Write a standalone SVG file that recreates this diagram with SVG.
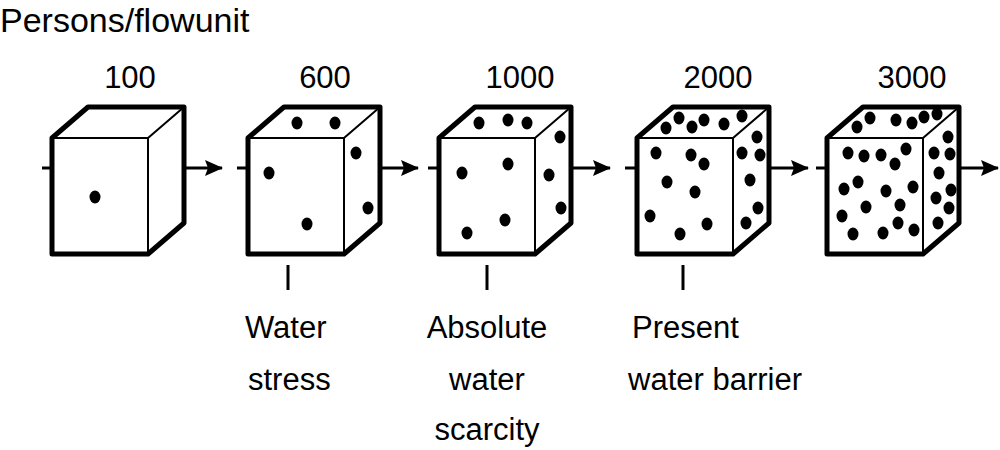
<svg xmlns="http://www.w3.org/2000/svg" xmlns:xlink="http://www.w3.org/1999/xlink" width="1000" height="450" viewBox="0 0 1000 450">
<style>
text{font-family:"Liberation Sans",Arial,sans-serif;fill:#000}
.n{font-size:31px;text-anchor:middle}
.l{font-size:31px}
.c{fill:#fff;stroke:#000;stroke-linejoin:round}
.thin{fill:none;stroke:#000;stroke-width:2}
.ln{stroke:#000;stroke-width:3;fill:none}
.d{fill:#000}
</style>
<defs>
<marker id="ah" markerWidth="18" markerHeight="16" refX="17" refY="8" orient="auto" markerUnits="userSpaceOnUse" viewBox="0 0 18 16"><path d="M0,0 L18,8 L0,16 L3,8 Z"/></marker>
<g id="cube">
<path class="c" stroke-width="5" d="M0,0 L36,-31 L132,-31 L132,85 L96,116 L0,116 Z"/>
<path class="thin" d="M0,0 L96,0 L132,-31 M96,0 L96,116"/>
</g>
</defs>
<text x="0" y="32" font-size="34">Persons/flowunit</text>
<text class="n" x="130" y="88">100</text>
<text class="n" x="325" y="88">600</text>
<text class="n" x="520" y="88">1000</text>
<text class="n" x="718" y="88">2000</text>
<text class="n" x="912" y="88">3000</text>
<g id="connectors">
<path class="ln" d="M42,168H52 M170,168H222" marker-end="url(#ah)"/>
<path class="ln" d="M237,168H248 M365,168H418" marker-end="url(#ah)"/>
<path class="ln" d="M428,168H439 M555,168H610" marker-end="url(#ah)"/>
<path class="ln" d="M625,168H637 M752,168H808" marker-end="url(#ah)"/>
<path class="ln" d="M816,168H827 M944,168H998" marker-end="url(#ah)"/>
<path class="ln" d="M288,265V290 M487,265V290 M683,265V290"/>
</g>
<g id="c1"><use xlink:href="#cube" x="52" y="138"/><ellipse class="d" cx="95" cy="197" rx="5.5" ry="6.5"/></g>
<g id="c2"><use xlink:href="#cube" x="248" y="138"/>
<g class="d"><ellipse cx="297" cy="123" rx="5.5" ry="6.5"/><ellipse cx="335" cy="123" rx="5.5" ry="6.5"/><ellipse cx="356" cy="153" rx="5.5" ry="6.5"/><ellipse cx="269" cy="173" rx="5.5" ry="6.5"/><ellipse cx="307" cy="224" rx="5.5" ry="6.5"/><ellipse cx="368" cy="208" rx="5.5" ry="6.5"/></g></g>
<g id="c3"><use xlink:href="#cube" x="439" y="138"/>
<g class="d"><ellipse cx="479" cy="123" rx="5.5" ry="6.5"/><ellipse cx="508" cy="120" rx="5.5" ry="6.5"/><ellipse cx="527" cy="123" rx="5.5" ry="6.5"/><ellipse cx="560" cy="137" rx="5.5" ry="6.5"/><ellipse cx="462" cy="173" rx="5.5" ry="6.5"/><ellipse cx="508" cy="164" rx="5.5" ry="6.5"/><ellipse cx="549" cy="175" rx="5.5" ry="6.5"/><ellipse cx="561" cy="208" rx="5.5" ry="6.5"/><ellipse cx="505" cy="220" rx="5.5" ry="6.5"/><ellipse cx="467" cy="233" rx="5.5" ry="6.5"/></g></g>
<g id="c4"><use xlink:href="#cube" x="637" y="138"/>
<g class="d"><ellipse cx="666" cy="128" rx="5.5" ry="6.5"/><ellipse cx="679" cy="118" rx="5.5" ry="6.5"/><ellipse cx="692" cy="127" rx="5.5" ry="6.5"/><ellipse cx="704" cy="120" rx="5.5" ry="6.5"/><ellipse cx="724" cy="124" rx="5.5" ry="6.5"/><ellipse cx="742" cy="116" rx="5.5" ry="6.5"/><ellipse cx="757" cy="137" rx="5.5" ry="6.5"/><ellipse cx="742" cy="153" rx="5.5" ry="6.5"/><ellipse cx="760" cy="155" rx="5.5" ry="6.5"/><ellipse cx="750" cy="180" rx="5.5" ry="6.5"/><ellipse cx="758" cy="208" rx="5.5" ry="6.5"/><ellipse cx="746" cy="223" rx="5.5" ry="6.5"/><ellipse cx="656" cy="153" rx="5.5" ry="6.5"/><ellipse cx="691" cy="155" rx="5.5" ry="6.5"/><ellipse cx="704" cy="164" rx="5.5" ry="6.5"/><ellipse cx="667" cy="182" rx="5.5" ry="6.5"/><ellipse cx="695" cy="192" rx="5.5" ry="6.5"/><ellipse cx="650" cy="216" rx="5.5" ry="6.5"/><ellipse cx="707" cy="224" rx="5.5" ry="6.5"/><ellipse cx="680" cy="234" rx="5.5" ry="6.5"/></g></g>
<g id="c5"><use xlink:href="#cube" x="827" y="138"/>
<g class="d"><ellipse cx="857" cy="127" rx="5.5" ry="6.5"/><ellipse cx="870" cy="118" rx="5.5" ry="6.5"/><ellipse cx="896" cy="120" rx="5.5" ry="6.5"/><ellipse cx="912" cy="123" rx="5.5" ry="6.5"/><ellipse cx="924" cy="117" rx="5.5" ry="6.5"/><ellipse cx="937" cy="114" rx="5.5" ry="6.5"/><ellipse cx="948" cy="137" rx="5.5" ry="6.5"/><ellipse cx="934" cy="153" rx="5.5" ry="6.5"/><ellipse cx="950" cy="154" rx="5.5" ry="6.5"/><ellipse cx="939" cy="173" rx="5.5" ry="6.5"/><ellipse cx="951" cy="190" rx="5.5" ry="6.5"/><ellipse cx="936" cy="198" rx="5.5" ry="6.5"/><ellipse cx="949" cy="208" rx="5.5" ry="6.5"/><ellipse cx="938" cy="223" rx="5.5" ry="6.5"/><ellipse cx="848" cy="153" rx="5.5" ry="6.5"/><ellipse cx="864" cy="156" rx="5.5" ry="6.5"/><ellipse cx="881" cy="155" rx="5.5" ry="6.5"/><ellipse cx="906" cy="149" rx="5.5" ry="6.5"/><ellipse cx="895" cy="164" rx="5.5" ry="6.5"/><ellipse cx="858" cy="182" rx="5.5" ry="6.5"/><ellipse cx="844" cy="189" rx="5.5" ry="6.5"/><ellipse cx="886" cy="191" rx="5.5" ry="6.5"/><ellipse cx="913" cy="187" rx="5.5" ry="6.5"/><ellipse cx="866" cy="207" rx="5.5" ry="6.5"/><ellipse cx="900" cy="205" rx="5.5" ry="6.5"/><ellipse cx="842" cy="216" rx="5.5" ry="6.5"/><ellipse cx="898" cy="223" rx="5.5" ry="6.5"/><ellipse cx="914" cy="230" rx="5.5" ry="6.5"/><ellipse cx="883" cy="233" rx="5.5" ry="6.5"/><ellipse cx="853" cy="234" rx="5.5" ry="6.5"/></g></g>
<text class="l" x="245" y="338">Water</text>
<text class="l" x="248" y="390">stress</text>
<text class="l" x="487" y="338" text-anchor="middle">Absolute</text>
<text class="l" x="487" y="390" text-anchor="middle">water</text>
<text class="l" x="487" y="440" text-anchor="middle">scarcity</text>
<text class="l" x="632" y="338">Present</text>
<text class="l" x="628" y="390">water barrier</text>
</svg>
